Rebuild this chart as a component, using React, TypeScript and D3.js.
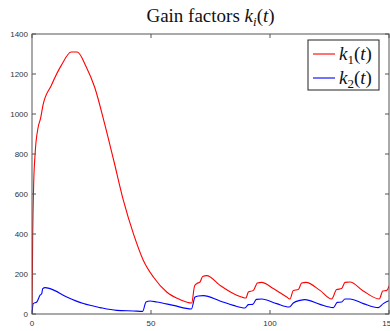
import React from 'react';
import * as d3 from 'd3';

// k1(t) samples
const t1 = [0, 0.3, 0.7, 1.3, 2.6, 3.6, 4.6, 8.1, 12.3, 16.5, 19.0, 22.8, 26.3, 30.5, 34.5, 38.4, 42.6, 46.8, 51, 56.6, 62.2, 67.1, 68.3, 69.2, 70.6, 71.7, 73.4, 79, 84.6, 88.8, 89.9, 90.9, 93, 94.7, 96.5, 101.4, 107, 108.4, 109.8, 111.9, 113.3, 115.1, 121, 125.9, 128, 130.1, 131.5, 133.6, 139.2, 145.9, 147.4, 149.1, 150];
const k1 = [0, 400, 650, 800, 935, 978, 1043, 1143, 1243, 1310, 1310, 1235, 1135, 952, 760, 568, 402, 268, 185, 110, 72, 55, 140, 152, 160, 188, 192, 143, 102, 82, 80, 110, 118, 155, 158, 127, 85, 75, 118, 122, 155, 158, 118, 75, 122, 127, 158, 160, 115, 75, 115, 118, 140];

// k2(t) samples
const t2 = [0, 0.5, 2, 3.4, 4.1, 4.5, 5.5, 7.6, 14.6, 21.6, 28.6, 35.6, 42.6, 46.5, 47.9, 49.6, 52.4, 59.4, 67, 68.5, 69.9, 72, 79, 84.6, 89.5, 90.9, 92.7, 94.3, 96.5, 102.8, 108.1, 109.8, 112.6, 114.7, 121, 126.6, 128.3, 130.1, 131.5, 133.6, 139.2, 145.5, 147.6, 149.7, 150];
const k2 = [0, 52, 60, 94, 102, 127, 132, 127, 85, 52, 32, 18, 15, 13, 60, 65, 60, 43, 25, 85, 90, 92, 65, 43, 30, 47, 48, 73, 75, 52, 35, 55, 68, 72, 48, 32, 58, 60, 75, 75, 52, 32, 52, 65, 66];

const xTicks = [0, 50, 100, 150];
const yTicks = [0, 200, 400, 600, 800, 1000, 1200, 1400];

const W = 390, H = 331;
const L = 32, R = 389, T = 34, B = 314;

export default function App() {
  const x = d3.scaleLinear().domain([0, 150]).range([L, R]);
  const y = d3.scaleLinear().domain([0, 1400]).range([B, T]);
  const line = d3.line<[number, number]>().x(d => x(d[0])).y(d => y(d[1])).curve(d3.curveMonotoneX);
  const p1 = line(t1.map((t, i) => [t, k1[i]]))!;
  const p2 = line(t2.map((t, i) => [t, k2[i]]))!;
  const axisCol = '#555';
  const serif = '"Liberation Serif", "DejaVu Serif", serif';
  const sans = '"Liberation Sans", Arial, sans-serif';

  return (
    <svg width={W} height={H} style={{ position: 'absolute', left: 0, top: 0, background: '#fff' }}>
      <defs>
        <clipPath id="plot"><rect x={L} y={T} width={R - L} height={B - T} /></clipPath>
      </defs>
      <text x={(L + R) / 2} y={22} textAnchor="middle" fontFamily={serif} fontSize={19} fill="#111">
        Gain factors <tspan fontStyle="italic">k</tspan><tspan fontStyle="italic" fontSize={13} dy={4}>i</tspan><tspan dy={-4}>(</tspan><tspan fontStyle="italic">t</tspan>)
      </text>
      <g clipPath="url(#plot)" fill="none" strokeWidth={1.1}>
        <path d={p1} stroke="#ff0000" />
        <path d={p2} stroke="#0000ff" />
      </g>
      <rect x={L} y={T} width={R - L} height={B - T} fill="none" stroke={axisCol} strokeWidth={1} />
      {yTicks.map(v => (
        <g key={v}>
          <line x1={L} x2={L + 4} y1={y(v)} y2={y(v)} stroke={axisCol} />
          <line x1={R - 4} x2={R} y1={y(v)} y2={y(v)} stroke={axisCol} />
          <text x={L - 4} y={y(v) + 3} textAnchor="end" fontFamily={sans} fontSize={8} fill="#333">{v}</text>
        </g>
      ))}
      {xTicks.map(v => (
        <g key={v}>
          <line x1={x(v)} x2={x(v)} y1={B} y2={B - 4} stroke={axisCol} />
          <line x1={x(v)} x2={x(v)} y1={T} y2={T + 4} stroke={axisCol} />
          <text x={x(v)} y={B + 12} textAnchor="middle" fontFamily={sans} fontSize={8} fill="#333">{v}</text>
        </g>
      ))}
      <g>
        <rect x={308} y={40} width={71} height={50} fill="#fff" stroke="#222" strokeWidth={1} />
        <line x1={313} x2={335} y1={54} y2={54} stroke="#ff0000" strokeWidth={1.1} />
        <line x1={313} x2={335} y1={78} y2={78} stroke="#0000ff" strokeWidth={1.1} />
        <text x={339} y={60} fontFamily={serif} fontSize={19} fill="#111">
          <tspan fontStyle="italic">k</tspan><tspan fontSize={13} dy={4}>1</tspan><tspan dy={-4}>(</tspan><tspan fontStyle="italic">t</tspan>)
        </text>
        <text x={339} y={84} fontFamily={serif} fontSize={19} fill="#111">
          <tspan fontStyle="italic">k</tspan><tspan fontSize={13} dy={4}>2</tspan><tspan dy={-4}>(</tspan><tspan fontStyle="italic">t</tspan>)
        </text>
      </g>
    </svg>
  );
}
